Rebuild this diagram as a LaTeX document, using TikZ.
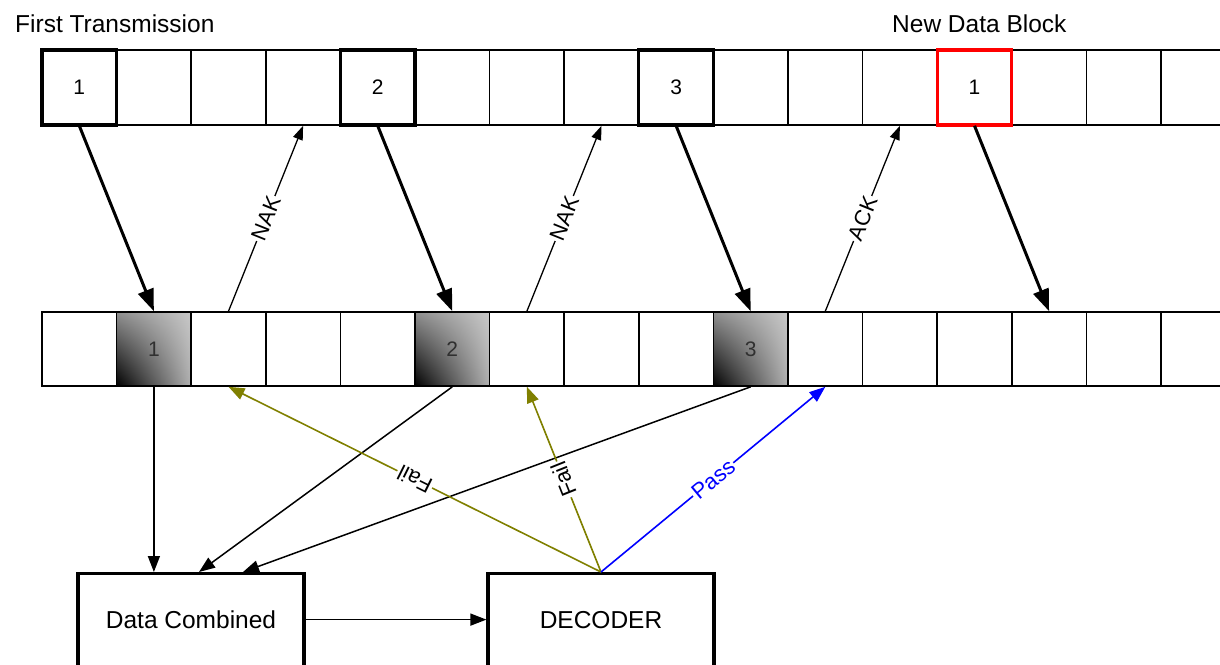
\documentclass[tikz,border=0pt]{standalone}
\usepackage{fontspec}
\setmainfont{Liberation Sans}
\usetikzlibrary{arrows.meta,shadings}
\definecolor{failolive}{HTML}{808000}
\definecolor{passblue}{HTML}{0000FF}
\definecolor{shUL}{HTML}{909090}
\definecolor{shUR}{HTML}{C8C8C8}
\definecolor{shLR}{HTML}{B0B0B0}
\definecolor{numgray}{HTML}{303030}
\begin{document}
\begin{tikzpicture}[x=1pt,y=-1pt,
  cell/.style={draw, line width=1.6pt, minimum width=74.6pt, minimum height=75pt, inner sep=0pt, font=\fontsize{21}{24}\selectfont},
  mcell/.style={cell, minimum height=74pt},
  shadedcell/.style={mcell, lower left=black, upper left=shUL, upper right=shUR, lower right=shLR, text=numgray},
  thickbox/.style={draw, line width=3.2pt},
  newbox/.style={draw=red, line width=3.2pt},
  sendarrow/.style={line width=3pt, -{Triangle[length=22pt,width=16pt]}},
  ackarrow/.style={line width=1.3pt, -{Triangle[length=14pt,width=10pt]}},
  thinarrow/.style={line width=1.5pt, -{Triangle[length=16pt,width=12pt]}},
  failarrow/.style={draw=failolive, line width=1.6pt, -{Triangle[length=16pt,width=12pt]}, failolive},
  passarrow/.style={draw=passblue, line width=1.6pt, -{Triangle[length=16pt,width=12pt]}, passblue},
  lbl/.style={fill=white, inner sep=1.5pt, font=\fontsize{22}{25}\selectfont, text=black},
  box/.style={draw, line width=3.2pt, minimum width=226pt, minimum height=100pt, anchor=north, inner sep=0pt, font=\fontsize{24.5}{28}\selectfont},
  title/.style={anchor=base west, inner sep=0pt, font=\fontsize{24.5}{28}\selectfont}
]
\useasboundingbox (0,0) rectangle (1220,664);

% top row
\foreach \i in {1,...,16}{
  \node[cell] (T\i) at ({42+(\i-0.5)*74.6},87.5) {};
}
\node[cell, thickbox] (T1b) at (T1) {1};
\node[cell, thickbox] (T5b) at (T5) {2};
\node[cell, thickbox] (T9b) at (T9) {3};
\node[cell, newbox] (T13b) at (T13) {1};

% middle row
\foreach \i in {1,...,16}{
  \node[mcell] (M\i) at ({42+(\i-0.5)*74.6},349) {};
}
\node[shadedcell] (M2s) at (M2) {1};
\node[shadedcell] (M6s) at (M6) {2};
\node[shadedcell] (M10s) at (M10) {3};

% titles
\node[title] (t1) at (15,32) {First Transmission};
\node[title] (t2) at (892,32) {New Data Block};

% bottom boxes
\node[box] (DC) at (191,572) {\raisebox{8pt}{Data Combined}};
\node[box] (DEC) at (601,572) {\raisebox{8pt}{DECODER}};

% transmissions
\draw[sendarrow] (T1.south) -- (M2.north);
\draw[sendarrow] (T5.south) -- (M6.north);
\draw[sendarrow] (T9.south) -- (M10.north);
\draw[sendarrow] (T13.south) -- (M14.north);

% feedback
\draw[ackarrow] (M3.north) -- node[lbl, sloped]{NAK} (T4.south);
\draw[ackarrow] (M7.north) -- node[lbl, sloped]{NAK} (T8.south);
\draw[ackarrow] (M11.north) -- node[lbl, sloped]{ACK} (T12.south);

% to combiner
\draw[thinarrow] (M2.south) -- (M2.south |- DC.north);
\draw[thinarrow] (M6.south) -- ([xshift=8pt]DC.north);
\draw[thinarrow] (M10.south) -- ([xshift=52pt]DC.north);

% combiner to decoder
\draw[thinarrow] ([yshift=4pt]DC.east) -- ([yshift=4pt]DEC.west);

% decoder results
\draw[failarrow] (DEC.north) -- node[lbl, sloped, allow upside down]{Fail} (M3.south);
\draw[failarrow] (DEC.north) -- node[lbl, sloped, allow upside down]{Fail} (M7.south);
\draw[passarrow] (DEC.north) -- node[lbl, sloped, text=passblue]{Pass} (M11.south);
\end{tikzpicture}
\end{document}
